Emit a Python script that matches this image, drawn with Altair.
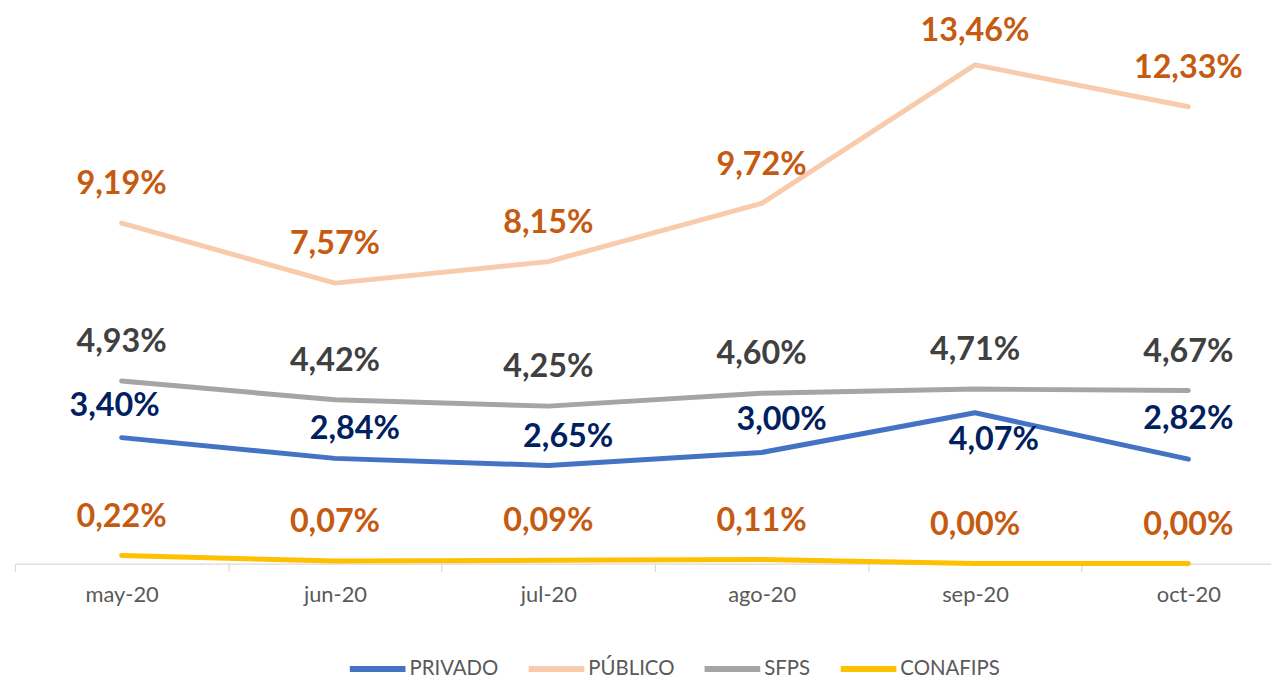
import altair as alt
import pandas as pd
import json

months = ["may-20", "jun-20", "jul-20", "ago-20", "sep-20", "oct-20"]
series_names = ["PRIVADO", "PÚBLICO", "SFPS", "CONAFIPS"]
privado = [3.40, 2.84, 2.65, 3.00, 4.07, 2.82]
publico = [9.19, 7.57, 8.15, 9.72, 13.46, 12.33]
sfps = [4.93, 4.42, 4.25, 4.60, 4.71, 4.67]
conafips = [0.22, 0.07, 0.09, 0.11, 0.00, 0.00]

line_colors = ["#4472C4", "#F8CBAD", "#A5A5A5", "#FFC000"]
label_colors = ["#002060", "#C55A11", "#404040", "#C55A11"]

rows = []
for name, vals in zip(series_names, [privado, publico, sfps, conafips]):
    for m, v in zip(months, vals):
        rows.append({"month": m, "series": name, "value": v,
                     "label": f"{v:.2f}".replace(".", ",") + "%"})
df = pd.DataFrame(rows)

band = 214.7
x_enc = alt.X(
    "month:N",
    sort=months,
    scale=alt.Scale(type="band", domain=months, range=[0, band * 6],
                    paddingInner=0, paddingOuter=0),
    axis=alt.Axis(title=None, tickBand="extent", domainColor="#D9D9D9",
                  tickColor="#D9D9D9", tickSize=8, domainWidth=1.2, tickWidth=1.2,
                  labelFont="Lato", labelFontSize=22, labelColor="#595959",
                  labelPadding=13, labelAngle=0, grid=False),
)
y_enc = alt.Y("value:Q", scale=alt.Scale(domain=[0, 14.75], nice=False, zero=True),
              axis=None)

base = alt.Chart(df)

lines = base.mark_line(strokeWidth=5, strokeCap="round", strokeJoin="round").encode(
    x=x_enc,
    y=y_enc,
    color=alt.Color(
        "series:N",
        scale=alt.Scale(domain=series_names, range=line_colors),
        sort=series_names,
        legend=alt.Legend(
            title=None, orient="none", direction="horizontal",
            legendX=334, legendY=625, symbolType="stroke", symbolSize=3136,
            symbolStrokeWidth=6, labelFont="Lato", labelFontSize=20.5,
            labelColor="#595959", columnPadding=18, labelOffset=1, padding=0,
        ),
    ),
)


def labels(series, sel_months, dx, dy):
    expr = f"datum.series == {json.dumps(series)} && indexof({json.dumps(sel_months)}, datum.month) >= 0"
    return base.transform_filter(expr).mark_text(
        font="Lato", fontWeight="bold", fontSize=32.5, baseline="middle",
        align="center", dx=dx, dy=dy,
    ).encode(
        x=x_enc,
        y=y_enc,
        text="label:N",
        color=alt.Color("series:N",
                        scale=alt.Scale(domain=series_names, range=label_colors),
                        legend=None),
    )


layers = [
    lines,
    labels("PÚBLICO", ["may-20", "jun-20", "jul-20", "ago-20", "oct-20"], 0, -39),
    labels("PÚBLICO", ["sep-20"], 0, -34),
    labels("SFPS", months, 0, -39),
    labels("CONAFIPS", months, 0, -39),
    labels("PRIVADO", ["may-20"], -7, -32),
    labels("PRIVADO", ["jun-20", "jul-20"], 20, -29),
    labels("PRIVADO", ["ago-20"], 20, -33),
    labels("PRIVADO", ["sep-20"], 19, 27),
    labels("PRIVADO", ["oct-20"], 0, -40),
]

chart = alt.layer(*layers).resolve_scale(color="independent").properties(
    width=1264,
    height=550,
    autosize=alt.AutoSizeParams(type="none"),
    padding={"left": 7, "top": 7, "right": 0, "bottom": 114},
    background="white",
).configure_view(stroke=None)

chart.save("out.html", embed_options={"renderer": "svg", "actions": False})
